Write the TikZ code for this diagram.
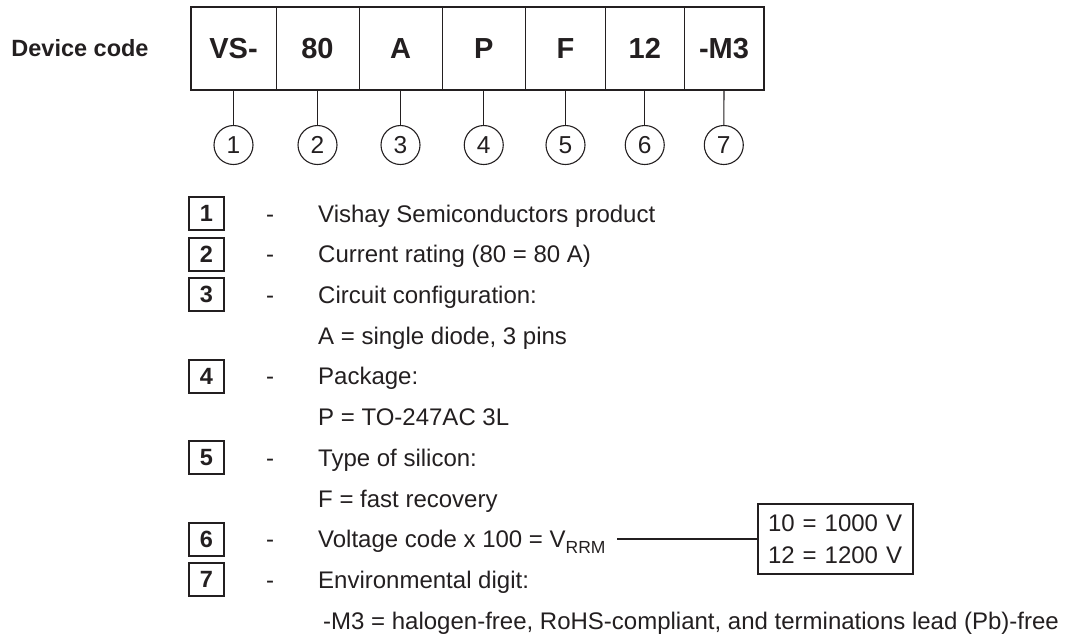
\documentclass[tikz,border=0pt]{standalone}
\usepackage{fontspec}
\setmainfont{Liberation Sans}
\definecolor{ink}{HTML}{231F20}
\begin{document}
\begin{tikzpicture}[x=1pt,y=-1pt,
  every node/.style={text=ink},
  cell/.style={minimum height=83pt, inner sep=0pt, font=\fontsize{29}{32}\selectfont\bfseries},
  num/.style={circle, draw=ink, line width=1.1pt, minimum size=39pt, inner sep=0pt, font=\fontsize{24.5}{28}\selectfont},
  key/.style={draw=ink, line width=2pt, minimum width=35pt, minimum height=33pt, inner sep=0pt, font=\fontsize{23.5}{24}\selectfont\bfseries},
  txt/.style={anchor=base west, inner sep=0pt, font=\fontsize{24}{28}\selectfont},
  dsh/.style={anchor=base, inner sep=0pt, font=\fontsize{24}{28}\selectfont},
  conn/.style={draw=ink, line width=1.1pt}]
\useasboundingbox (0,0) rectangle (1066,633);

\node[font=\fontsize{23.5}{26}\selectfont\bfseries, inner sep=0pt] (dc) at (80,48) {Device code};

% code cells
\node[cell, minimum width=85pt]   (c1) at (233.5,48.5) {VS-};
\node[cell, minimum width=83pt]   (c2) at (317.5,48.5) {80};
\node[cell, minimum width=83pt]   (c3) at (400.5,48.5) {A};
\node[cell, minimum width=83.5pt] (c4) at (483.75,48.5) {P};
\node[cell, minimum width=80pt]   (c5) at (565.5,48.5) {F};
\node[cell, minimum width=78.5pt] (c6) at (644.75,48.5) {12};
\node[cell, minimum width=80pt]   (c7) at (724,48.5) {-M3};
\draw[ink, line width=2pt] (c1.north west) rectangle (c7.south east);
\foreach \i in {1,...,6}{\draw[ink, line width=1.3pt] (c\i.north east) -- (c\i.south east);}

% number circles
\node[num] (n1) at (233.5,145) {1};
\node[num] (n2) at (317.5,145) {2};
\node[num] (n3) at (400.5,145) {3};
\node[num] (n4) at (483.75,145) {4};
\node[num] (n5) at (565.5,145) {5};
\node[num] (n6) at (644.75,145) {6};
\node[num] (n7) at (723.8,145) {7};
\foreach \i in {1,...,7}{\draw[conn] (c\i.south |- c\i.south) -- (n\i.north);}

% legend
\node[key] (k1) at (206.5,213.5) {1};
\node[key] (k2) at (206.5,254.2) {2};
\node[key] (k3) at (206.5,294.9) {3};
\node[key] (k4) at (206.5,376.3) {4};
\node[key] (k5) at (206.5,457.7) {5};
\node[key] (k6) at (206.5,539.1) {6};
\node[key] (k7) at (206.5,579.8) {7};

\node[dsh] (d1) at (270,222.1) {-};
\node[dsh] (d2) at (270,262.8) {-};
\node[dsh] (d3) at (270,303.5) {-};
\node[dsh] (d4) at (270,384.9) {-};
\node[dsh] (d5) at (270,466.3) {-};
\node[dsh] (d6) at (270,547.7) {-};
\node[dsh] (d7) at (270,588.4) {-};

\node[txt] (t1) at (318,222.1) {Vishay Semiconductors product};
\node[txt] (t2) at (318,262.8) {Current rating (80 = 80 A)};
\node[txt] (t3) at (318,303.5) {Circuit configuration:};
\node[txt] (t3a) at (318,344.2) {A = single diode, 3 pins};
\node[txt] (t4) at (318,384.9) {Package:};
\node[txt] (t4a) at (318,425.6) {P = TO-247AC 3L};
\node[txt] (t5) at (318,466.3) {Type of silicon:};
\node[txt] (t5a) at (318,507.0) {F = fast recovery};
\node[txt] (t6) at (318,547.7) {Voltage code x 100 = V\raisebox{-5.5pt}{\fontsize{17.5}{20}\selectfont RRM}};
\node[txt] (t7) at (318,588.4) {Environmental digit:};
\node[txt] (t7a) at (323,629.1) {-M3 = halogen-free, RoHS-compliant, and terminations lead (Pb)-free};

% voltage box
\node[draw=ink, line width=1.1pt, minimum width=155pt, minimum height=70pt, inner sep=0pt,
      text width=135pt, align=left, font=\fontsize{24}{32}\selectfont] (vb) at (835.5,539) {10 = 1000 V\\12 = 1200 V};
\coordinate (vs) at (617,539);
\draw[conn] (vs) -- (vb.west);
\end{tikzpicture}
\end{document}
